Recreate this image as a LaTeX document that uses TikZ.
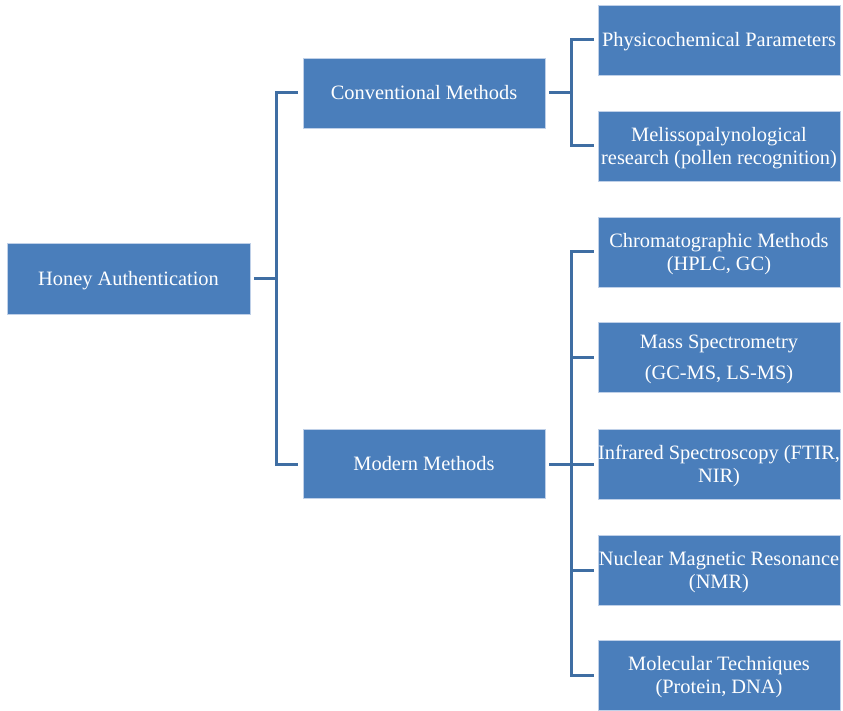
\documentclass[tikz,border=0pt]{standalone}
\usepackage{fontspec}
\setmainfont{Liberation Serif}
\definecolor{boxfill}{HTML}{4A7EBB}
\definecolor{boxline}{HTML}{BFD0E8}
\definecolor{connline}{HTML}{3F6EA3}
\newcommand{\boxtext}[1]{\raisebox{-2pt}[\height][\depth]{\begin{tabular}{@{}c@{}}#1\end{tabular}}}
\tikzset{
  box/.style={rectangle, fill=boxfill, draw=boxline, line width=0.8pt, text=white,
    minimum width=242pt, minimum height=70pt, inner sep=0pt, align=center,
    font=\fontsize{20.4}{23}\selectfont},
  conn/.style={draw=connline, line width=3pt}
}
\begin{document}
\begin{tikzpicture}[x=1pt,y=-1pt]
\useasboundingbox (0,0) rectangle (843,711);
\node[box, minimum width=243pt, minimum height=71pt] (honey) at (128.5,278.5) {\boxtext{Honey Authentication}};
\node[box] (conv) at (424,93) {\boxtext{Conventional Methods}};
\node[box, minimum height=69pt] (modern) at (424,464) {\boxtext{Modern Methods}};
\node[box] (phys) at (719,40) {\boxtext{Physicochemical Parameters}};
\node[box] (meli) at (719,146) {\boxtext{Melissopalynological\\research (pollen recognition)}};
\node[box] (chrom) at (719,252) {\boxtext{Chromatographic Methods\\(HPLC, GC)}};
\node[box] (mass) at (719,357.5) {\boxtext{Mass Spectrometry\\[8pt](GC-MS, LS-MS)}};
\node[box] (ir) at (719,464) {\boxtext{Infrared Spectroscopy (FTIR,\\NIR)}};
\node[box] (nmr) at (719,570.5) {\boxtext{Nuclear Magnetic Resonance\\(NMR)}};
\node[box] (mol) at (719,675.5) {\boxtext{Molecular Techniques\\(Protein, DNA)}};
% left bracket
\coordinate (hj) at ([xshift=26pt]honey.east);
\draw[conn] ([xshift=4pt]honey.east) -- (hj);
\draw[conn] (hj) |- ([xshift=-5pt]conv.west);
\draw[conn] (hj) |- ([xshift=-5pt]modern.west);
% conventional bracket
\coordinate (cj) at ([xshift=26pt]conv.east);
\draw[conn] ([xshift=4pt]conv.east) -- (cj);
\draw[conn] (cj) |- ([xshift=-4pt]phys.west);
\draw[conn] (cj) |- ([xshift=-4pt]meli.west);
% modern bracket
\coordinate (mj) at ([xshift=26pt]modern.east);
\draw[conn] ([xshift=4pt]modern.east) -- ([xshift=-4pt]ir.west);
\draw[conn] (mj) |- ([xshift=-4pt]chrom.west);
\draw[conn] (mj) |- ([xshift=-4pt]mass.west);
\draw[conn] (mj) |- ([xshift=-4pt]nmr.west);
\draw[conn] (mj) |- ([xshift=-4pt]mol.west);
\end{tikzpicture}
\end{document}
